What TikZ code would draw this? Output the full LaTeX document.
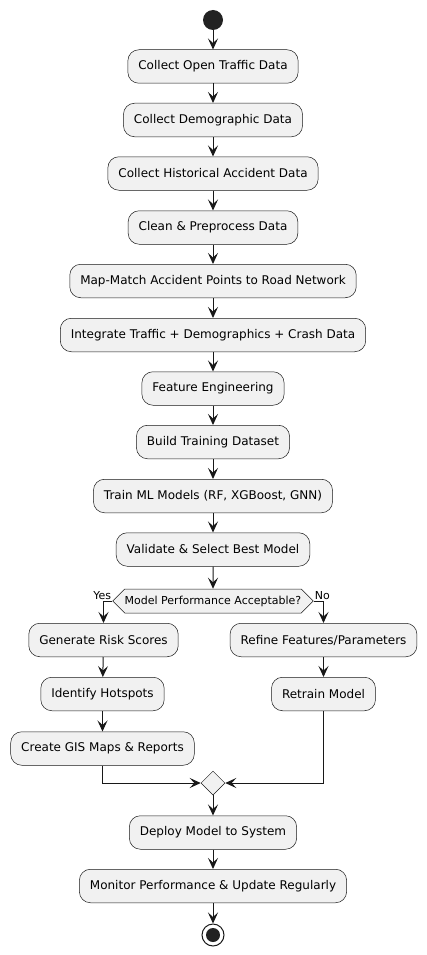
\documentclass[tikz,border=0pt]{standalone}
\usepackage{fontspec}
\setmainfont{DejaVu Sans}
\usetikzlibrary{arrows.meta,shapes.geometric,shapes.symbols}
\definecolor{boxfill}{HTML}{F1F1F1}
\definecolor{ink}{HTML}{181818}
\definecolor{dot}{HTML}{222222}
\begin{document}
\begin{tikzpicture}[x=1pt,y=-1pt,
  act/.style={draw=ink, line width=0.5pt, fill=boxfill, rounded corners=11pt,
    minimum height=33.5pt, inner xsep=10.5pt, font=\fontsize{12}{14}\selectfont, text=black},
  flow/.style={draw=ink, line width=1pt, -{Stealth[length=11pt,width=10pt,inset=4.5pt]}},
  lbl/.style={font=\fontsize{11}{13}\selectfont, inner sep=0pt, text=black}]
\useasboundingbox (0,0) rectangle (427,955);
\node[circle, fill=dot, minimum size=20pt, inner sep=0pt] (start) at (213,20) {};
\node[act] (n1) at (213,66.5) {Collect Open Traffic Data};
\node[act] (n2) at (213,120) {Collect Demographic Data};
\node[act] (n3) at (213,173.5) {Collect Historical Accident Data};
\node[act] (n4) at (213,227.5) {Clean \& Preprocess Data};
\node[act] (n5) at (213,281) {Map-Match Accident Points to Road Network};
\node[act] (n6) at (213,335) {Integrate Traffic + Demographics + Crash Data};
\node[act] (n7) at (213,388.5) {Feature Engineering};
\node[act] (n8) at (213,442) {Build Training Dataset};
\node[act] (n9) at (213,496) {Train ML Models (RF, XGBoost, GNN)};
\node[act] (n10) at (213,549.5) {Validate \& Select Best Model};
\node[signal, signal to=west and east, signal pointer angle=90, draw=ink, line width=0.5pt,
  fill=boxfill, font=\fontsize{11}{13}\selectfont, minimum height=24pt,
  inner xsep=0pt, inner ysep=0pt] (dec) at (213,601) {Model Performance Acceptable?};
\node[lbl, anchor=base east] (yes) at ([xshift=-1pt,yshift=2pt]dec.west) {Yes};
\node[lbl, anchor=base west] (no) at ([xshift=1pt,yshift=2pt]dec.east) {No};
\node[act] (gen) at (103.5,640) {Generate Risk Scores};
\node[act] (hot) at (102.5,694) {Identify Hotspots};
\node[act] (gis) at (102.5,748.5) {Create GIS Maps \& Reports};
\node[act] (ref) at (323.5,640) {Refine Features/Parameters};
\node[act] (ret) at (323.5,694) {Retrain Model};
\node[diamond, draw=ink, line width=0.5pt, fill=boxfill, minimum size=24pt, inner sep=0pt] (merge) at (213,783) {};
\node[act] (dep) at (213,832.5) {Deploy Model to System};
\node[act] (mon) at (213,886) {Monitor Performance \& Update Regularly};
\node[circle, draw=ink, line width=1pt, fill=white, minimum size=22pt, inner sep=0pt,
  path picture={\fill[dot] (path picture bounding box.center) circle (7pt);}] (stop) at (213,935) {};
\draw[flow] (start) -- (n1);
\draw[flow] (n1) -- (n2);
\draw[flow] (n2) -- (n3);
\draw[flow] (n3) -- (n4);
\draw[flow] (n4) -- (n5);
\draw[flow] (n5) -- (n6);
\draw[flow] (n6) -- (n7);
\draw[flow] (n7) -- (n8);
\draw[flow] (n8) -- (n9);
\draw[flow] (n9) -- (n10);
\draw[flow] (n10) -- (dec);
\draw[flow] (dec.west) -| (gen.north);
\draw[flow] (dec.east) -| (ref.north);
\draw[flow] (gen) -- (hot);
\draw[flow] (hot) -- (gis);
\draw[flow] (ref) -- (ret);
\draw[flow] (gis.south) |- (merge.west);
\draw[flow] (ret.south) |- (merge.east);
\draw[flow] (merge) -- (dep);
\draw[flow] (dep) -- (mon);
\draw[flow] (mon) -- (stop);
\end{tikzpicture}
\end{document}
